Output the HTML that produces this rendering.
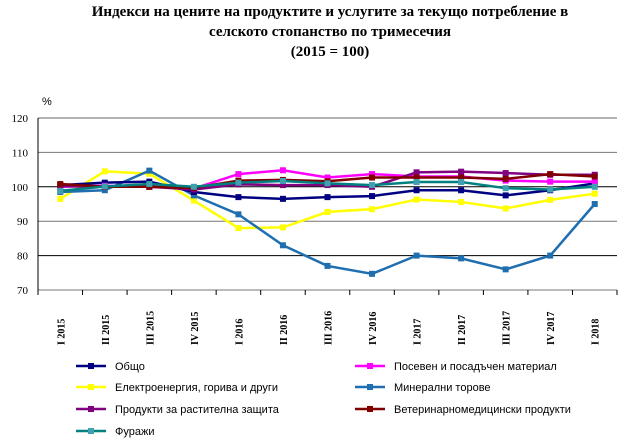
<!DOCTYPE html>
<html><head><meta charset="utf-8"><style>
body{margin:0;background:#fff;width:630px;height:446px;overflow:hidden;font-family:"Liberation Serif",serif}
.t{position:absolute;left:0;width:660px;text-align:center;font-weight:bold;font-size:15px;line-height:20px}
</style></head><body>
<div class="t" style="top:2px">Индекси на цените на продуктите и услугите за текущо потребление в<br>селското стопанство по тримесечия<br>(2015 = 100)</div>
<svg id="c" width="630" height="446" style="position:absolute;left:0;top:0" xmlns="http://www.w3.org/2000/svg"></svg>
<script>
const categories=["I 2015","II 2015","III 2015","IV 2015","I 2016","II 2016","III 2016","IV 2016","I 2017","II 2017","III 2017","IV 2017","I 2018"];
const yTicks=[70,80,90,100,110,120];
const seriesNames=["Общо","Посевен и посадъчен материал","Електроенергия, горива и други","Минерални торове","Продукти за растителна защита","Ветеринарномедицински продукти","Фуражи"];
const seriesColors=["#000080","#ff00ff","#ffff00","#1f6fb0","#800080","#800000","#008080"];
const markerColors=["#000080","#ff00ff","#ffff00","#1f6fb0","#800080","#800000","#40a0b0"];
const sObshto=[100.5,101.2,101.5,98.5,97,96.5,97,97.3,99,99,97.5,99,101];
const sPosev=[100,100.3,100,99.5,103.7,104.8,102.7,103.7,103,103,101.8,101.5,101.5];
const sElektro=[96.5,104.5,103.8,96,88,88.2,92.7,93.5,96.3,95.6,93.7,96.2,98];
const sMineral=[98.5,99,104.7,97.5,92,83,77,74.7,80,79.2,76,80,95];
const sZashtita=[100.2,100,100,99.2,100.7,100.5,100.5,100,104.2,104.4,104,103.5,103.5];
const sVet=[100.8,100,100,99.7,101.8,102,101.6,102.7,102.7,102.7,102.3,103.7,103];
const sFuraji=[98.8,100.1,100.8,100,101.2,101.7,101,100.5,101.4,101.4,99.6,99.2,100];
const seriesData=[sObshto,sPosev,sElektro,sMineral,sZashtita,sVet,sFuraji];
const drawOrder=[2,3,0,1,4,5,6];
const svg=document.getElementById('c');const NS="http://www.w3.org/2000/svg";
const X0=38,X1=617,Y0=290,Y1=118;
const x=i=>X0+(i+0.5)*(X1-X0)/categories.length;
const y=v=>Y0-(v-70)/(120-70)*(Y0-Y1);
function mk(t,a){const e=document.createElementNS(NS,t);for(const k in a)e.setAttribute(k,a[k]);svg.appendChild(e);return e;}
yTicks.forEach(v=>{
 const g=mk('line',{x1:X0,x2:X1,y1:y(v),y2:y(v),stroke:v==120?'#666':(v==100||v==80?'#000':'#777'),'stroke-width':1});
 
 
 const t=mk('text',{x:28,y:y(v)+4,'text-anchor':'end','font-size':11,fill:'#000'});t.textContent=v;
 
 
});
const ua=mk('text',{x:42,y:105,'font-size':11,'font-family':'Liberation Sans'});ua.textContent='%';


mk('line',{x1:X0,x2:X0,y1:Y1,y2:Y0,stroke:'#000'});
categories.forEach((c,i)=>{
 const xl=X0+i*(X1-X0)/categories.length;
 mk('line',{x1:xl,x2:xl,y1:Y0,y2:Y0+5,stroke:'#000'});
 const t=mk('text',{transform:`translate(${x(i)+4},345) rotate(-90)`,'font-size':10,'font-weight':'bold'});t.textContent=c;
 
 
});
mk('line',{x1:X1,x2:X1,y1:Y0,y2:Y0+5,stroke:'#000'});
drawOrder.forEach(s=>{
 const d=seriesData[s];
 const p=mk('polyline',{points:d.map((v,i)=>x(i)+','+y(v)).join(' '),fill:'none',stroke:seriesColors[s],'stroke-width':2.5});
 
 
 d.forEach((v,i)=>{const r=mk('rect',{x:x(i)-3,y:y(v)-3,width:6,height:6,fill:markerColors[s]});
 
 });
});
const legPos=[[76,366],[355,366],[76,387],[355,387],[76,409],[355,409],[76,431]];
seriesNames.forEach((n,s)=>{
 const [lx,ly]=legPos[s];
 const l=mk('line',{x1:lx,x2:lx+30,y1:ly,y2:ly,stroke:seriesColors[s],'stroke-width':2.5});
 
 
 mk('rect',{x:lx+12,y:ly-3,width:6,height:6,fill:markerColors[s]});
 const t=mk('text',{x:lx+39,y:ly+4,'font-size':11,'font-family':'Liberation Sans'});t.textContent=n;
 
 
});
</script>
</body></html>
